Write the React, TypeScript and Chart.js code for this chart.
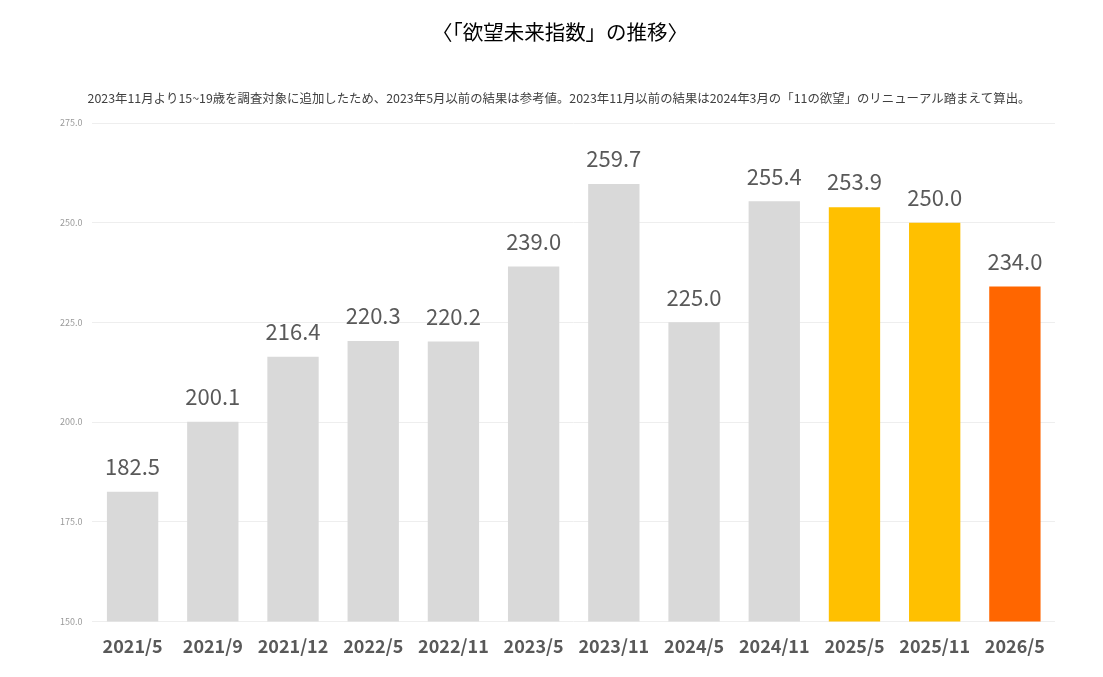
import React, { useEffect, useRef } from "react";
import { Chart, registerables } from "chart.js";

Chart.register(...registerables);

const categories = ["2021/5", "2021/9", "2021/12", "2022/5", "2022/11", "2023/5", "2023/11", "2024/5", "2024/11", "2025/5", "2025/11", "2026/5"];
const values = [182.5, 200.1, 216.4, 220.3, 220.2, 239.0, 259.7, 225.0, 255.4, 253.9, 250.0, 234.0];
const barColors = ["#d9d9d9", "#d9d9d9", "#d9d9d9", "#d9d9d9", "#d9d9d9", "#d9d9d9", "#d9d9d9", "#d9d9d9", "#d9d9d9", "#ffc000", "#ffc000", "#ff6600"];
const yMin = 150;
const yMax = 275;
const yStep = 25;
const titleText = "〈「欲望未来指数」の推移〉";
const noteText = "2023年11月より15~19歳を調査対象に追加したため、2023年5月以前の結果は参考値。2023年11月以前の結果は2024年3月の「11の欲望」のリニューアル踏まえて算出。";

const FONT = "'Noto Sans CJK JP', 'Noto Sans', sans-serif";

const labelPlugin = {
  id: "barLabels",
  afterDatasetsDraw(chart: any) {
    const ctx = chart.ctx;
    const meta = chart.getDatasetMeta(0);
    ctx.save();
    ctx.fillStyle = "#595959";
    ctx.font = `22px ${FONT}`;
    ctx.textAlign = "center";
    ctx.textBaseline = "middle";
    meta.data.forEach((bar: any, i: number) => {
      ctx.fillText(values[i].toFixed(1), bar.x, bar.y - 25);
    });
    ctx.restore();
  },
};

const headerPlugin = {
  id: "header",
  afterDraw(chart: any) {
    const ctx = chart.ctx;
    ctx.save();
    ctx.textAlign = "center";
    ctx.textBaseline = "middle";
    ctx.fillStyle = "#000000";
    ctx.font = `20.5px ${FONT}`;
    ctx.fillText(titleText, 560, 32);
    ctx.fillStyle = "#404040";
    ctx.font = `12.4px ${FONT}`;
    ctx.fillText(noteText, 559, 98);
    ctx.restore();
  },
};

export default function App() {
  const ref = useRef<HTMLCanvasElement>(null);
  useEffect(() => {
    document.body.style.margin = "0";
    const chart = new Chart(ref.current!, {
      type: "bar",
      data: {
        labels: categories,
        datasets: [
          {
            data: values,
            backgroundColor: barColors,
            barPercentage: 0.64,
            categoryPercentage: 1,
          },
        ],
      },
      options: {
        animation: false,
        responsive: true,
        maintainAspectRatio: false,
        layout: { padding: { top: 123, right: 48, left: 50, bottom: 14 } },
        plugins: {
          legend: { display: false },
          tooltip: { enabled: false },
          title: { display: false },
        },
        scales: {
          x: {
            grid: { display: false },
            border: { display: false },
            ticks: {
              color: "#595959",
              font: { family: FONT, size: 18, weight: "bold" },
              padding: 6,
              maxRotation: 0,
            },
          },
          y: {
            min: yMin,
            max: yMax,
            grid: { color: "#eeeeee", lineWidth: 1, drawTicks: false },
            border: { display: false },
            ticks: {
              stepSize: yStep,
              color: "#9a9a9a",
              font: { family: FONT, size: 9 },
              padding: 10,
              callback: (v: any) => Number(v).toFixed(1),
            },
          },
        },
      },
      plugins: [labelPlugin, headerPlugin],
    });
    return () => chart.destroy();
  }, []);
  return (
    <div style={{ width: 1103, height: 677, position: "relative", background: "#fff" }}>
      <canvas ref={ref} />
    </div>
  );
}
